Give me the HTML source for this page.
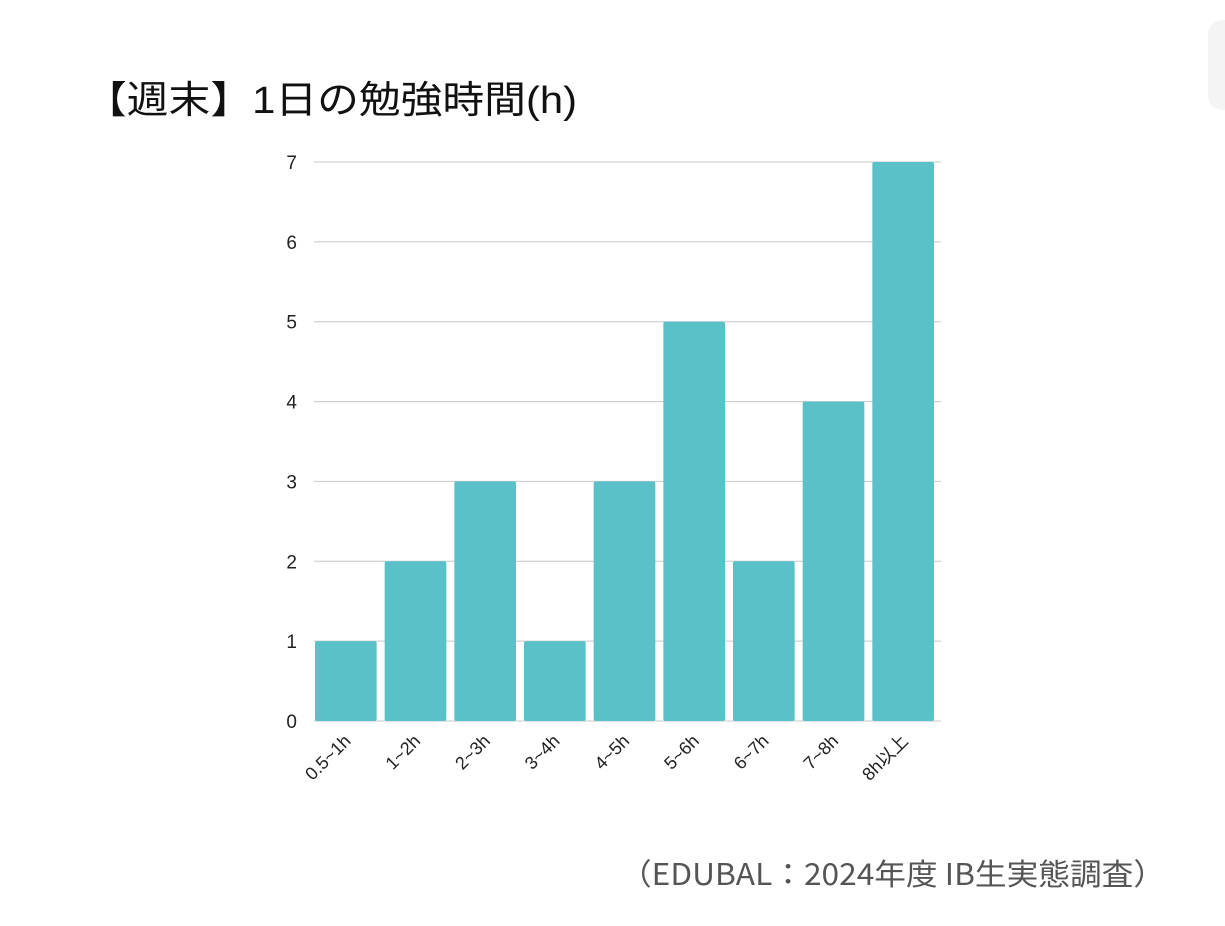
<!DOCTYPE html>
<html><head><meta charset="utf-8"><style>
html,body{margin:0;padding:0;background:#fff;width:1225px;height:926px;overflow:hidden}
svg{display:block}
</style></head><body>
<svg width="1225" height="926" xmlns="http://www.w3.org/2000/svg">
<rect x="1208" y="20" width="30" height="90" rx="14" fill="#f4f4f4"/>
<text x="85" y="113" font-family="'Liberation Sans','Noto Sans CJK JP',sans-serif" font-size="38" fill="#111" textLength="492" lengthAdjust="spacingAndGlyphs">【週末】1日の勉強時間(h)</text>
<g id="grid"></g>
<g id="bars"></g>
<g id="yt"></g>
<g id="xt"></g>
<text x="1165" y="885" text-anchor="end" font-family="'Noto Sans CJK JP',sans-serif" font-size="30" fill="#555" textLength="545" lengthAdjust="spacingAndGlyphs">（EDUBAL：2024年度 IB生実態調査）</text>
</svg>
<script>
const categories=["0.5~1h","1~2h","2~3h","3~4h","4~5h","5~6h","6~7h","7~8h","8h以上"];
const values=[1,2,3,1,3,5,2,4,7];
const yTicks=[0,1,2,3,4,5,6,7];
const NS="http://www.w3.org/2000/svg";
const x0=314,x1=941,y0=721,yTop=162,yMax=7;
const band=(x1-x0)/categories.length;
const ys=v=>y0-(v/yMax)*(y0-yTop);
const xs=i=>x0+i*band;
function mk(t,a){const e=document.createElementNS(NS,t);for(const k in a)e.setAttribute(k,a[k]);return e;}
const grid=document.getElementById('grid'),bars=document.getElementById('bars'),yt=document.getElementById('yt'),xt=document.getElementById('xt');
yTicks.forEach(v=>{
  const l=mk('line',{x1:x0,x2:x1,y1:ys(v),y2:ys(v),stroke:'#c8c8c8','stroke-width':1});
  
  
  grid.appendChild(l);
  const t=mk('text',{x:297,y:ys(v)+7,'text-anchor':'end','font-family':"'Liberation Sans',sans-serif",'font-size':19,fill:'#222'});
  t.textContent=v;
  
  
  yt.appendChild(t);
});
values.forEach((v,i)=>{
  const r=mk('rect',{x:xs(i)+1,y:ys(v),width:band-8,height:y0-ys(v),rx:2,fill:'#5bc1c9'});
  
  
  bars.appendChild(r);
  const cx=xs(i)+1+(band-8)/2+6;
  const t=mk('text',{x:cx,y:742,'text-anchor':'end','font-family':"'Liberation Sans','Noto Sans CJK JP',sans-serif",'font-size':18,fill:'#222',transform:`rotate(-45 ${cx} 742)`});
  t.textContent=categories[i];
  
  
  xt.appendChild(t);
});
</script>
</body></html>
